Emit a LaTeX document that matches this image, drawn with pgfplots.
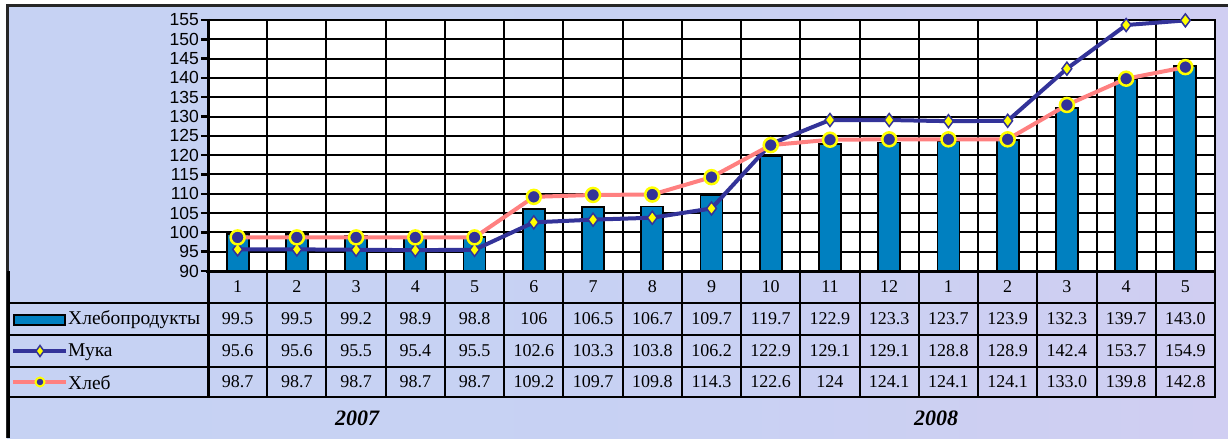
\documentclass[border=0pt]{standalone}
\usepackage{pgfplots}
\pgfplotsset{compat=1.18}
\usepackage{pgfplotstable}
\usepackage{fontspec}
\setmainfont{Liberation Serif}
\newfontfamily\arial{Liberation Sans}
\definecolor{bg}{RGB}{198,210,243}
\definecolor{bgpink}{RGB}{208,206,242}
\definecolor{barblue}{RGB}{0,128,192}
\definecolor{navy}{RGB}{51,51,153}
\definecolor{salmon}{RGB}{255,128,128}
\definecolor{yel}{RGB}{255,255,0}

\pgfplotstableread{
x bread flour loaf
1 99.5 95.6 98.7
2 99.5 95.6 98.7
3 99.2 95.5 98.7
4 98.9 95.4 98.7
5 98.8 95.5 98.7
6 106 102.6 109.2
7 106.5 103.3 109.7
8 106.7 103.8 109.8
9 109.7 106.2 114.3
10 119.7 122.9 122.6
11 122.9 129.1 124
12 123.3 129.1 124.1
13 123.7 128.8 124.1
14 123.9 128.9 124.1
15 132.3 142.4 133.0
16 139.7 153.7 139.8
17 143.0 154.9 142.8
}\data

\begin{document}
\begin{tikzpicture}
% background (pixel coordinates)
\begin{scope}[x=1pt,y=-1pt,shift={(-208pt,271pt)}]
  \useasboundingbox (0,0) rectangle (1228,438);
  \fill[white] (0,0) rectangle (1228,438);
  \shade[left color=bg, right color=bgpink, middle color=bg!85!bgpink] (7,5) rectangle (1228,438);
  \draw[line width=2.5pt, black!85] (7.5,438) -- (7.5,5.5) -- (1228,5.5);
\end{scope}

\begin{axis}[
  at={(0,0)}, anchor=south west,
  scale only axis, width=1007pt, height=251pt,
  xmin=0.5, xmax=17.5, ymin=90, ymax=155,
  ytick={90,95,...,155},
  xtick={1.5,2.5,...,16.5}, xticklabels={},
  x tick style={draw=none},
  xmajorgrids, ymajorgrids,
  grid style={black, line width=2pt},
  axis line style={black, line width=2pt},
  axis background/.style={fill=white},
  ytick pos=left, tick align=outside,
  major tick length=7pt,
  y tick style={black, line width=2.5pt},
  /pgf/number format/assume math mode=true,
  yticklabel style={font=\arial\fontsize{17.5}{17.5}\selectfont, inner sep=2pt},
]
\addplot[ybar, bar width=22pt, bar shift=0pt, fill=barblue, draw=black, line width=1.8pt]
  table[x=x, y=bread] {\data};
\addplot[navy, line width=4pt, mark=diamond*, mark size=6.5pt,
  mark options={fill=yel, draw=navy, line width=1.5pt}]
  table[x=x, y=flour] {\data};
\addplot[salmon, line width=4pt, mark=*, mark size=7pt,
  mark options={fill=navy, draw=yel, line width=2.5pt}]
  table[x=x, y=loaf] {\data};
\end{axis}

% data table (pixel coordinates)
\begin{scope}[x=1pt,y=-1pt,shift={(-208pt,271pt)}]
  \def\cw{59.2353}
  \foreach \k in {1,...,17} {
    \draw[line width=2pt] ({208+\k*\cw},271) -- ({208+\k*\cw},397);
  }
  \foreach \yy in {303,335,367,397} {
    \draw[line width=2pt] (8,\yy) -- (1216,\yy);
  }
  \draw[line width=3pt] (208,19) -- (208,397);
  \draw[line width=3pt] (206,271) -- (1216,271);
  \draw[line width=3pt] (8.5,271) -- (8.5,438);
  \foreach \i/\h/\a/\b/\c in {
    1/1/99.5/95.6/98.7, 2/2/99.5/95.6/98.7, 3/3/99.2/95.5/98.7,
    4/4/98.9/95.4/98.7, 5/5/98.8/95.5/98.7, 6/6/106/102.6/109.2,
    7/7/106.5/103.3/109.7, 8/8/106.7/103.8/109.8, 9/9/109.7/106.2/114.3,
    10/10/119.7/122.9/122.6, 11/11/122.9/129.1/124, 12/12/123.3/129.1/124.1,
    13/1/123.7/128.8/124.1, 14/2/123.9/128.9/124.1, 15/3/132.3/142.4/133.0,
    16/4/139.7/153.7/139.8, 17/5/143.0/154.9/142.8} {
    \begin{scope}[font=\fontsize{18}{18}\selectfont]
    \node at ({208+(\i-0.5)*\cw},287) {\h};
    \node at ({208+(\i-0.5)*\cw},319) {\a};
    \node at ({208+(\i-0.5)*\cw},351) {\b};
    \node at ({208+(\i-0.5)*\cw},382) {\c};
    \end{scope}
  }
  % legend keys
  \filldraw[fill=barblue, draw=black, line width=2pt] (14,315) rectangle (65,325);
  \draw[navy, line width=4pt] (13,351) -- (66,351);
  \filldraw[fill=yel, draw=navy, line width=1.5pt] (40,345.5) -- (44,351) -- (40,356.5) -- (36,351) -- cycle;
  \draw[salmon, line width=4pt] (13,382) -- (66,382);
  \filldraw[fill=navy, draw=yel, line width=2pt] (40,382) circle (4.5);
  \begin{scope}[font=\fontsize{19.5}{19.5}\selectfont]
  \node[anchor=west, inner sep=0pt] at (68,320) {Хлебопродукты};
  \node[anchor=west, inner sep=0pt] at (68,352) {Мука};
  \node[anchor=west, inner sep=0pt] at (68,383) {Хлеб};
  \end{scope}
  \node[font=\fontsize{22}{22}\selectfont\bfseries\itshape] at (357,418) {2007};
  \node[font=\fontsize{22}{22}\selectfont\bfseries\itshape] at (936,418) {2008};
\end{scope}
\end{tikzpicture}
\end{document}
